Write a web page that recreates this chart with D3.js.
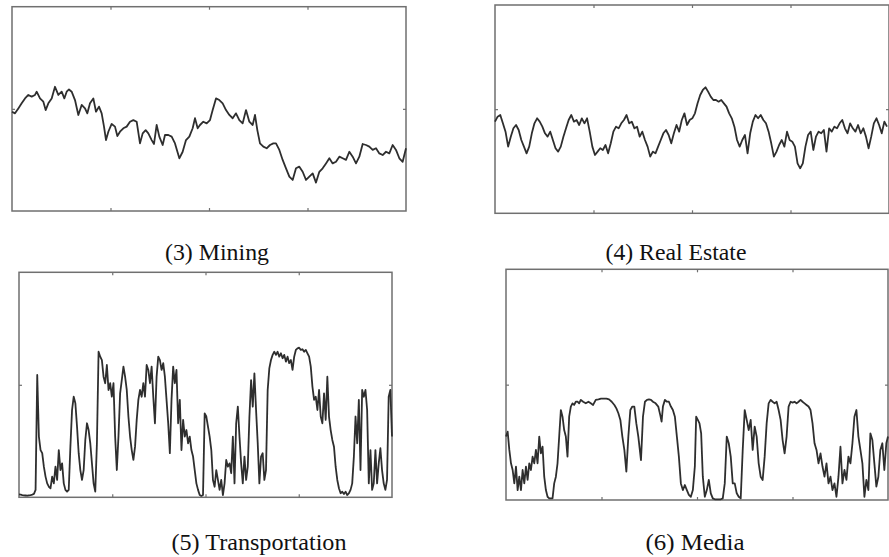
<!DOCTYPE html>
<html>
<head>
<meta charset="utf-8">
<script src="https://cdn.jsdelivr.net/npm/d3@7/dist/d3.min.js"></script>
<style>
  body { margin: 0; background: #fff; }
  svg { display: block; }
</style>
</head>
<body>
<div class="box"></div>
<script>
// index values: 0 = bottom of the frame, 100 = top, 50 = middle tick
const mining = [48.6,47.8,50.2,52.7,55.1,56.8,56.0,56.8,58.4,55.1,
  53.5,49.4,52.7,55.1,60.8,56.8,58.4,55.1,58.4,59.5,
  58.4,54.3,47.0,51.9,50.2,47.8,52.7,55.1,48.6,51.1,
  47.8,41.3,34.7,38.8,42.6,41.3,36.7,38.8,40.5,41.3,
  43.7,44.5,43.7,33.1,38.0,39.6,38.0,34.7,32.8,42.1,
  36.4,32.3,37.2,37.2,36.4,33.1,25.8,29.0,34.7,36.4,
  40.5,45.4,40.5,42.1,43.7,42.9,44.5,49.4,55.1,54.3,
  52.7,49.4,47.0,45.4,47.8,44.5,42.9,49.4,43.7,42.1,
  47.0,39.6,33.1,31.5,30.7,32.3,33.1,33.1,29.9,25.0,
  20.9,16.8,15.2,20.9,21.7,19.2,15.2,16.8,18.4,13.9,
  19.2,20.9,23.3,25.8,23.3,24.1,26.6,25.8,25.0,29.0,
  26.6,23.3,26.6,32.8,32.3,31.5,29.9,30.7,28.2,27.4,
  29.0,28.2,32.3,29.9,25.8,24.1,30.7];
const miningDay = [0,9,19,29,39,49,59,69,74,84,
  94,101,109,119,129,139,149,157,164,171,
  179,189,199,209,219,226,234,244,252,261,
  269,276,282,289,299,309,316,324,334,344,
  354,364,374,384,392,401,409,419,426,434,
  442,452,459,469,479,489,502,512,522,532,
  542,549,557,564,574,584,594,602,612,622,
  632,642,652,662,672,682,692,702,712,722,
  729,736,744,754,764,774,784,792,802,812,
  822,832,842,852,862,872,882,892,902,912,
  922,932,942,952,962,972,982,992,1002,1012,
  1022,1032,1042,1052,1062,1072,1082,1092,1102,1112,
  1122,1132,1142,1152,1162,1172,1182];

const realEstate = [44.0,46.4,47.2,43.2,39.2,32.0,36.8,40.8,42.4,40.0,
  35.2,32.0,28.8,32.0,38.4,43.2,45.6,44.0,41.6,38.4,
  36.8,39.2,35.2,31.2,29.6,32.0,36.8,40.8,44.8,47.2,
  44.0,44.8,42.4,45.6,43.2,45.6,39.2,32.0,28.0,29.6,
  31.2,30.4,32.8,28.8,33.6,39.2,41.6,40.8,43.2,44.8,
  47.2,43.2,44.0,40.8,41.6,36.8,39.2,35.2,32.0,27.2,
  29.6,28.8,32.0,35.2,38.4,40.0,37.6,33.6,38.4,42.4,
  39.2,44.8,48.0,42.4,44.8,45.6,48.0,52.8,56.8,59.2,
  60.5,58.4,56.0,54.4,54.4,53.6,54.4,52.8,51.2,48.0,
  45.6,41.6,35.2,32.0,35.2,37.6,28.8,38.4,44.0,47.2,
  45.6,47.2,44.8,43.2,39.2,33.6,27.2,29.6,32.8,35.2,
  32.0,39.2,35.2,34.4,32.0,24.0,21.6,24.0,32.0,37.6,
  39.2,30.4,36.8,39.2,38.4,40.0,29.6,40.8,39.2,41.6,
  40.8,43.2,44.8,40.8,38.4,43.2,40.8,39.2,42.4,38.4,
  40.8,36.8,31.2,36.8,43.2,45.6,42.4,38.4,44.0,41.6];

const transport = [1.3,1.2,1.0,0.9,0.8,0.7,0.9,1.0,1.2,1.5,
  3.3,54.4,27.0,21.0,19.6,13.6,9.2,6.2,4.7,4.0,9.2,
  6.2,13.6,7.7,21.0,12.1,15.1,6.2,3.3,2.5,3.3,
  22.5,38.8,44.7,41.8,31.4,19.6,12.1,7.7,12.1,25.5,
  32.9,29.9,24.0,15.1,6.2,2.5,24.0,64.7,62.5,61.0,
  53.6,50.7,58.8,47.7,50.7,44.7,50.7,27.0,12.1,27.0,
  46.2,52.1,58.1,53.6,47.7,35.9,27.0,21.0,16.6,22.5,
  34.4,43.3,47.7,44.7,50.7,44.7,58.8,56.6,50.7,58.1,
  44.7,32.9,53.6,62.5,61.0,56.6,59.6,53.6,43.3,32.9,
  19.6,43.3,58.1,50.7,56.6,32.9,43.3,21.0,34.4,27.0,
  29.9,24.0,27.0,21.0,18.1,12.1,6.2,3.3,1.0,0.6,
  1.0,37.3,35.9,31.4,27.0,21.0,7.7,4.7,12.1,7.7,
  3.3,7.7,1.0,6.2,16.6,13.6,15.1,10.7,27.0,6.2,
  32.9,40.3,27.0,15.1,6.2,18.1,7.7,13.6,35.9,52.1,
  40.3,55.1,38.8,24.0,6.2,18.1,19.6,7.7,12.1,47.7,
  57.3,61.0,63.3,64.7,63.3,64.7,62.5,64.0,61.8,63.3,
  60.3,62.5,59.6,61.0,56.6,62.5,65.5,66.2,66.5,65.5,
  65.8,64.7,65.5,64.0,62.5,58.1,49.2,43.3,44.7,38.8,
  47.7,35.9,32.9,46.2,34.4,53.6,35.9,29.9,25.5,22.5,
  13.6,7.7,4.0,1.8,2.5,1.5,2.5,1.0,1.8,3.3,
  6.2,18.1,35.9,24.0,43.3,12.1,47.7,44.7,47.7,38.8,
  6.2,21.0,3.3,6.2,21.0,6.2,15.1,21.8,12.1,6.2,
  3.3,7.7,44.7,47.7,27.0];

const media = [27.5,29.6,21.7,15.9,13.0,7.2,14.5,4.3,10.1,4.3,
  13.0,7.2,14.5,8.7,15.9,13.0,18.8,15.9,21.7,15.9,
  27.5,20.2,23.1,10.1,4.3,1.4,0.7,0.7,0.7,7.2,
  10.1,15.9,27.5,39.0,36.1,30.3,27.5,18.8,36.1,40.5,
  41.9,41.2,42.6,42.6,41.9,43.4,
  42.6,41.9,42.6,41.9,41.2,43.4,43.6,43.9,43.9,43.9,43.6,42.6,41.2,
  39.7,37.6,34.7,27.5,21.7,12.3,27.5,39.0,40.5,40.5,33.2,27.5,
  17.3,36.1,42.6,43.4,43.6,43.4,42.6,
  41.9,40.5,36.8,34.0,40.5,43.4,42.6,42.6,40.5,39.0,36.1,27.5,18.8,7.2,4.3,6.5,4.3,2.2,1.4,4.3,14.5,
  36.1,34.7,33.2,28.9,10.1,
  1.4,4.3,8.7,2.9,0.7,0.3,0.3,0.3,0.3,0.7,
  7.2,27.5,24.6,18.8,7.2,7.2,2.9,1.4,0.7,21.7,
  39.0,34.7,30.3,34.7,21.7,31.8,27.5,15.9,10.1,8.7,
  18.8,33.2,41.9,43.4,42.6,41.9,42.6,39.0,34.7,26.0,
  20.2,27.5,40.5,42.6,42.2,42.6,41.9,42.6,43.4,42.6,
  41.9,41.2,40.5,39.0,33.2,24.6,21.7,15.9,20.2,14.5,
  10.1,15.9,7.2,10.1,4.3,7.2,1.4,10.1,23.1,7.2,
  13.0,8.7,18.8,15.9,24.6,36.1,39.0,27.5,21.7,15.9,
  1.4,8.7,4.3,28.9,26.0,15.9,5.8,10.1,21.7,24.6,
  13.0,24.6,
  27.5];
const mediaDay = [0,5,10,15,20,25,30,35,40,45,50,55,60,65,70,75,80,85,90,95,
  100,105,110,115,120,125,130,135,140,145,150,155,160,165,170,175,180,185,190,195,
  200,205,210,215,220,225,
  232,240,248,255,262,270,278,286,294,302,310,318,326,
  332,338,344,350,356,362,368,374,380,386,392,398,
  406,412,418,424,430,436,442,
  450,458,464,468,472,478,484,490,496,502,508,514,520,526,532,538,544,550,556,562,568,
  572,577,582,587,592,
  598,604,610,616,622,628,634,640,646,652,658,664,670,676,682,688,694,700,706,712,
  718,724,730,736,742,748,754,760,766,772,778,784,790,796,802,808,814,820,826,832,
  838,844,850,856,862,868,874,880,886,892,898,904,910,916,922,928,934,940,946,952,
  958,964,970,976,982,988,994,1000,1006,1012,1018,1024,1030,1036,1042,1048,1054,1060,1066,1072,
  1078,1084,1090,1096,1102,1108,1114,1120,1126,1132,1138,1144,
  1149];

const captions = ['(3) Mining', '(4) Real Estate', '(5) Transportation', '(6) Media'];

const svg = d3.select('.box')
              .append('svg')
              .attr('width', 889)
              .attr('height', 557)
              .style('background', '#fff');

svg.append('defs')
   .append('filter')
   .attr('id', 'soft')
   .append('feGaussianBlur')
   .attr('stdDeviation', 0.45);

// frame boxes and caption spots
const layout = [
  {x: 12,  y: 6.7,   w: 394, h: 204.3, lineW: 394, cx: 217, cy: 260, tw: 104},
  {x: 495, y: 5,     w: 394, h: 208.3, lineW: 392, cx: 676, cy: 260, tw: 141},
  {x: 19,  y: 272.3, w: 373, h: 225,   lineW: 373, cx: 259, cy: 550, tw: 175},
  {x: 506, y: 269.3, w: 382, h: 230.7, lineW: 382, cx: 695, cy: 550, tw: 99}
];

const series = [
  {day: miningDay, value: mining},
  {day: realEstate.map((d, i) => i), value: realEstate},
  {day: transport.map((d, i) => i), value: transport},
  {day: mediaDay, value: media}
];

series.forEach((s, k) => {
    const box = layout[k];

    const graph = svg.append('g')
                     .attr('transform', `translate(${box.x}, ${box.y})`)
                     .attr('filter', 'url(#soft)');

    const x = d3.scaleLinear()
                .domain([0, d3.max(s.day)])
                .range([0, box.lineW]);
    const y = d3.scaleLinear()
                .domain([0, 100])
                .range([box.h, 0]);
    // frame divided in quarters for the ticks
    const fx = d3.scaleLinear()
                 .domain([0, 4])
                 .range([0, box.w]);

    graph.append('rect')
         .attr('width', box.w)
         .attr('height', box.h)
         .attr('fill', 'none')
         .attr('stroke', '#6f6f6f')
         .attr('stroke-width', 1.5);

    const axes = [
      {axis: d3.axisBottom(fx).tickValues([1, 2, 3]), t: `translate(0, ${box.h})`},
      {axis: d3.axisTop(fx).tickValues([1, 2, 3]), t: 'translate(0, 0)'},
      {axis: d3.axisLeft(y).tickValues([50]), t: 'translate(0, 0)'},
      {axis: d3.axisRight(y).tickValues([50]), t: `translate(${box.w}, 0)`}
    ];
    axes.forEach(a => {
        const g = graph.append('g')
                       .attr('transform', a.t)
                       .call(a.axis.tickSize(-3).tickFormat(''));
        g.select('.domain').remove();
        g.selectAll('line').attr('stroke', '#6f6f6f').attr('stroke-width', 1.2);
    });

    const valueLine = d3.line()
                        .x((d, i) => x(s.day[i]))
                        .y(d => y(d));

    graph.append('path')
         .attr('d', valueLine(s.value))
         .attr('fill', 'none')
         .attr('stroke', '#2f2f2f')
         .attr('stroke-width', 1.8)
         .attr('stroke-linejoin', 'round');

    svg.append('text')
       .attr('x', box.cx)
       .attr('y', box.cy)
       .attr('text-anchor', 'middle')
       .attr('font-family', "'Liberation Serif', 'Times New Roman', serif")
       .attr('font-size', 24)
       .attr('fill', '#111')
       .attr('textLength', box.tw)
       .attr('lengthAdjust', 'spacingAndGlyphs')
       .text(captions[k]);
});
</script>
</body>
</html>
